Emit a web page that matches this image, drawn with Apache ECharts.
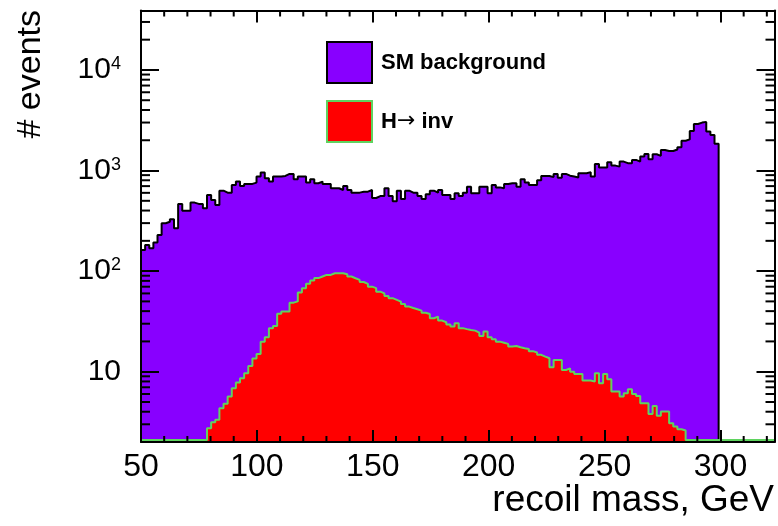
<!DOCTYPE html>
<html><head><meta charset="utf-8">
<script src="https://cdn.jsdelivr.net/npm/echarts@6/dist/echarts.min.js"></script>
<style>html,body{margin:0;padding:0;background:#fff}#c{width:778px;height:526px}</style>
</head><body><div id="c"></div>
<script>
const X_MIN = 50, X_MAX = 323.3, BIN_W = 1.78;
const Y_MIN = 2, Y_MAX = 39000;
const xMajorTicks = [50, 100, 150, 200, 250, 300];
const xMinorTicks = [60,70,80,90,110,120,130,140,160,170,180,190,210,220,230,240,260,270,280,290,310,320];
const yMinorTicks = [3,4,5,6,7,8,9,20,30,40,50,60,70,80,90,200,300,400,500,600,700,800,900,2000,3000,4000,5000,6000,7000,8000,9000,20000,30000];
const seriesNames = ['SM background', 'H\u2192 inv'];
const xTitle = 'recoil mass, GeV';
const yTitle = '# events';

// SM background per bin (bin width BIN_W starting at X_MIN); 0 = empty
const smValues = [
 162,182,169,192,229,299,310,328,267,466,
 399,399,480,466,466,422,572,510,455,631,
 603,603,719,776,703,736,736,759,871,955,
 838,776,871,871,884,925,925,818,871,871,
 759,818,748,776,736,736,667,667,641,703,
 640,603,603,616,616,641,533,557,557,667,
 557,496,631,520,631,603,603,557,520,582,
 631,603,641,572,572,520,593,557,603,688,
 593,593,688,688,593,719,680,667,736,748,
 748,688,818,759,719,719,800,884,884,860,
 925,850,925,889,871,853,940,940,964,871,
 1163,1069,1069,1209,1119,1094,1227,1183,1183,1276,
 1227,1377,1464,1296,1453,1400,1600,1562,1562,1620,
 1700,1975,2040,2477,2905,2996,3046,2441,2260,1843,
 0,0,0,0,0,0,0,0,0,0,0,0,0,0
];
// H -> invisible signal per bin; 0 = below axis
const hinvValues = [
 0,0,0,0,0,0,0,0,0,0,
 0,0,0,0,0,0,2.74,3.15,3.32,4.34,
 4.79,5.66,6.85,7.80,8.63,9.67,11.4,13.5,15.0,19.9,
 22.0,27.1,28.5,37.6,39.6,39.6,48.6,50.0,61.2,67.7,
 74.7,80.6,85.2,88.4,91.7,91.7,95.3,95.3,95.3,93.0,
 88.4,85.0,81.8,78.0,74.7,70.1,67.7,62.5,60.0,56.6,
 53.8,51.8,49.8,47.0,44.4,43.0,41.8,40.5,38.6,37.5,
 34.0,35.3,32.2,31.0,29.5,28.1,30.3,27.1,26.5,26.0,
 25.6,24.5,22.7,25.1,22.0,21.0,19.9,19.4,18.9,17.8,
 18.0,17.5,17.1,16.8,16.0,15.5,14.7,14.1,13.6,11.1,
 13.1,13.1,10.4,10.8,10.0,9.5,9.5,8.16,8.16,7.97,
 9.67,7.69,9.5,8.41,6.34,6.34,5.66,6.11,6.70,6.01,
 5.74,4.86,4.86,3.80,4.57,3.64,4.01,4.01,3.08,2.85,
 2.68,2.6,0,0,0,0,0,0,0,0,
 0,0,0,0,0,0,0,0,0,0,0,0,0,0
];

const FONT = 'Liberation Sans, Arial, Helvetica, sans-serif';
// empty bins are drawn on the frame floor, as the histogram package does
const FLOOR = Y_MIN * 1.045;

function histData(vals) {
  const d = [];
  for (let i = 0; i < vals.length; i++) {
    d.push([X_MIN + i * BIN_W, vals[i] > 0 ? vals[i] : FLOOR]);
  }
  const last = vals[vals.length - 1];
  d.push([X_MIN + vals.length * BIN_W, last > 0 ? last : FLOOR]);
  return d;
}

const chart = echarts.init(document.getElementById('c'), null, {renderer: 'canvas'});

function yLabel(v) {
  const l = Math.log10(v);
  const e = Math.round(l);
  if (Math.abs(l - e) > 1e-6) return '';
  if (e === 1) return '{b|10}';
  return '{b|10}{s|' + e + '}';
}

const xAxisCommon = {
  type: 'value', min: X_MIN, max: X_MAX, interval: 50, z: 10,
  splitLine: {show: false},
  axisLine: {show: true, onZero: false, lineStyle: {color: '#000', width: 2}},
  axisTick: {show: true, inside: true, length: 12, lineStyle: {color: '#000', width: 2}}
};
const yAxisCommon = {
  type: 'log', logBase: 10, min: Y_MIN, max: Y_MAX, z: 10,
  splitLine: {show: false},
  axisLine: {show: true, onZero: false, lineStyle: {color: '#000', width: 2}},
  axisTick: {show: true, inside: true, length: 18, lineStyle: {color: '#000', width: 2}}
};

chart.setOption({
  animation: false,
  backgroundColor: '#fff',
  grid: {left: 141, right: 3.5, top: 10.5, bottom: 84, containLabel: false},
  legend: {
    show: true, orient: 'vertical', left: 326, top: 41, padding: 0,
    itemWidth: 45, itemHeight: 41, itemGap: 16,
    formatter: name => name === seriesNames[1] ? '{t|H}{arr|\u2192}{t| inv}' : '{t|' + name + '}',
    textStyle: {fontFamily: FONT, fontWeight: 'bold', fontSize: 22, color: '#000', padding: [0, 0, 0, 4],
      rich: {
        t: {fontFamily: FONT, fontWeight: 'bold', fontSize: 22, color: '#000'},
        arr: {fontFamily: 'DejaVu Sans', fontWeight: 'normal', fontSize: 22, color: '#000'}
      }},
    data: [
      {name: seriesNames[0], icon: 'rect', itemStyle: {color: '#8800ff', borderColor: '#000', borderWidth: 2}},
      {name: seriesNames[1], icon: 'rect', itemStyle: {color: '#ff0000', borderColor: '#5fd35f', borderWidth: 2}}
    ]
  },
  xAxis: [
    Object.assign({}, xAxisCommon, {
      position: 'bottom',
      axisLabel: {show: true, margin: 9, fontFamily: FONT, fontSize: 32, color: '#000',
        showMaxLabel: false,
        formatter: v => (xMajorTicks.indexOf(Math.round(v)) >= 0 && Math.abs(v - Math.round(v)) < 1e-6) ? String(Math.round(v)) : ''}
    }),
    Object.assign({}, xAxisCommon, {position: 'top', axisLabel: {show: false}})
  ],
  yAxis: [
    Object.assign({}, yAxisCommon, {
      position: 'left',
      axisLabel: {show: true, margin: 20, fontFamily: FONT, color: '#000', formatter: yLabel,
        rich: {
          b: {fontFamily: FONT, fontSize: 30, color: '#000'},
          s: {fontFamily: FONT, fontSize: 18, color: '#000', verticalAlign: 'top'}
        }}
    }),
    Object.assign({}, yAxisCommon, {position: 'right', axisLabel: {show: false}})
  ],
  series: [
    {
      name: seriesNames[0], type: 'line', step: 'end', xAxisIndex: 0, yAxisIndex: 0,
      data: histData(smValues), showSymbol: false, symbol: 'none', z: 2,
      lineStyle: {color: '#000', width: 2},
      itemStyle: {color: '#8800ff', borderColor: '#000'},
      areaStyle: {color: '#8800ff', opacity: 1, origin: 'start'}
    },
    {
      name: seriesNames[1], type: 'line', step: 'end', xAxisIndex: 0, yAxisIndex: 0,
      data: histData(hinvValues), showSymbol: false, symbol: 'none', z: 3,
      lineStyle: {color: '#5fd35f', width: 2},
      itemStyle: {color: '#ff0000', borderColor: '#5fd35f'},
      areaStyle: {color: '#ff0000', opacity: 1, origin: 'start'}
    }
  ]
});

// minor ticks and axis titles
const L = chart.convertToPixel({xAxisIndex: 0}, X_MIN);
const R = chart.convertToPixel({xAxisIndex: 0}, X_MAX);
const B = chart.convertToPixel({yAxisIndex: 0}, Y_MIN);
const T = chart.convertToPixel({yAxisIndex: 0}, Y_MAX);
const g = [];
const tickStyle = {stroke: '#000', lineWidth: 2};
xMinorTicks.forEach(v => {
  const px = chart.convertToPixel({xAxisIndex: 0}, v);
  g.push({type: 'line', z: 20, silent: true, shape: {x1: px, y1: B, x2: px, y2: B - 6}, style: tickStyle});
  g.push({type: 'line', z: 20, silent: true, shape: {x1: px, y1: T, x2: px, y2: T + 6}, style: tickStyle});
});
yMinorTicks.forEach(v => {
  if (v < Y_MIN || v > Y_MAX) return;
  const py = chart.convertToPixel({yAxisIndex: 0}, v);
  g.push({type: 'line', z: 20, silent: true, shape: {x1: L, y1: py, x2: L + 9, y2: py}, style: tickStyle});
  g.push({type: 'line', z: 20, silent: true, shape: {x1: R, y1: py, x2: R - 9, y2: py}, style: tickStyle});
});
g.push({type: 'text', z: 20, silent: true, x: 774, y: 519,
  style: {text: xTitle, fontFamily: FONT, fontSize: 37, fill: '#000', align: 'right', verticalAlign: 'bottom'}});
g.push({type: 'text', z: 20, silent: true, x: 48, y: 10, rotation: Math.PI / 2,
  style: {text: yTitle, fontFamily: FONT, fontSize: 34, fill: '#000', align: 'right', verticalAlign: 'bottom'}});
chart.setOption({graphic: g});
</script>
</body></html>
